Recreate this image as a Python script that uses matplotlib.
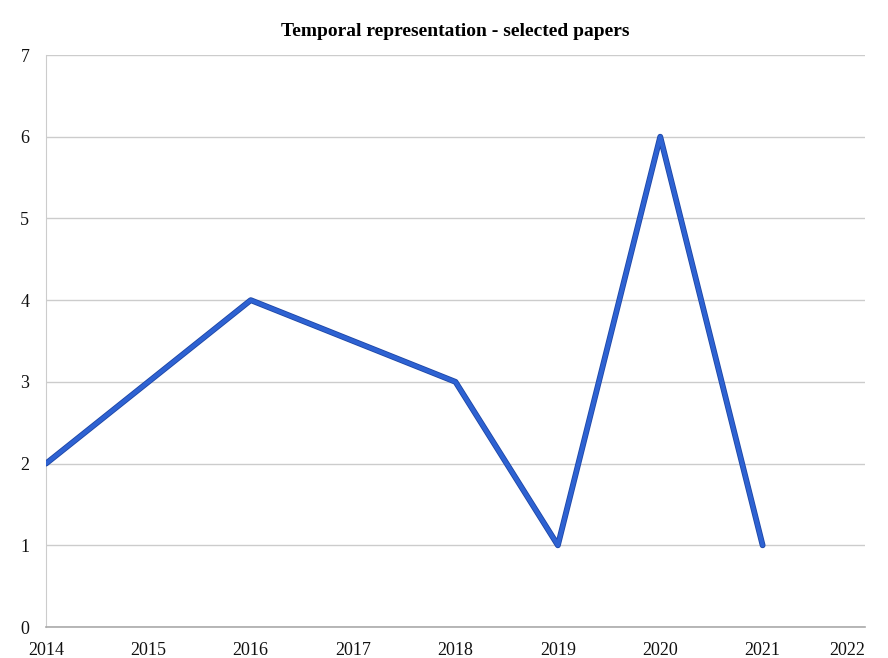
import numpy as np
import matplotlib.pyplot as plt
import matplotlib.patheffects as pe

plt.rcParams['font.family'] = ['Liberation Serif', 'DejaVu Serif']

years = ['2014', '2015', '2016', '2017', '2018', '2019', '2020', '2021', '2022']
point_years = ['2014', '2016', '2018', '2019', '2020', '2021']
papers = [2, 4, 3, 1, 6, 1]

xpos = [years.index(y) for y in point_years]

fig = plt.figure(figsize=(8.88, 6.58), dpi=100)
ax = fig.add_axes([0.0518, 0.0471, 0.9223, 0.8693])

ax.plot(xpos, papers, color='#2e62d2', lw=3.0,
        solid_joinstyle='round', solid_capstyle='round',
        path_effects=[pe.Stroke(linewidth=4.2, foreground='#1d46a6'), pe.Normal()],
        zorder=3)

ax.set_xlim(0, len(years) - 1)
ax.set_ylim(0, 7)
ax.set_xticks(range(len(years)))
ax.set_xticklabels(years)
ax.set_yticks(range(8))
ax.grid(axis='y', color='#cccccc', lw=1.0)
ax.tick_params(length=0, labelsize=13, colors='#111111')
ax.tick_params(axis='x', pad=11)
ax.tick_params(axis='y', pad=12)
labels = ax.get_xticklabels()
labels[-1].set_horizontalalignment('right')

for s in ['top', 'right']:
    ax.spines[s].set_visible(False)
ax.spines['left'].set_color('#cccccc')
ax.spines['bottom'].set_color('#aaaaaa')
ax.spines['bottom'].set_linewidth(1.2)

ax.set_title('Temporal representation - selected papers', fontsize=14,
             fontweight='bold', pad=14)

fig.savefig('out.png', dpi=100)
